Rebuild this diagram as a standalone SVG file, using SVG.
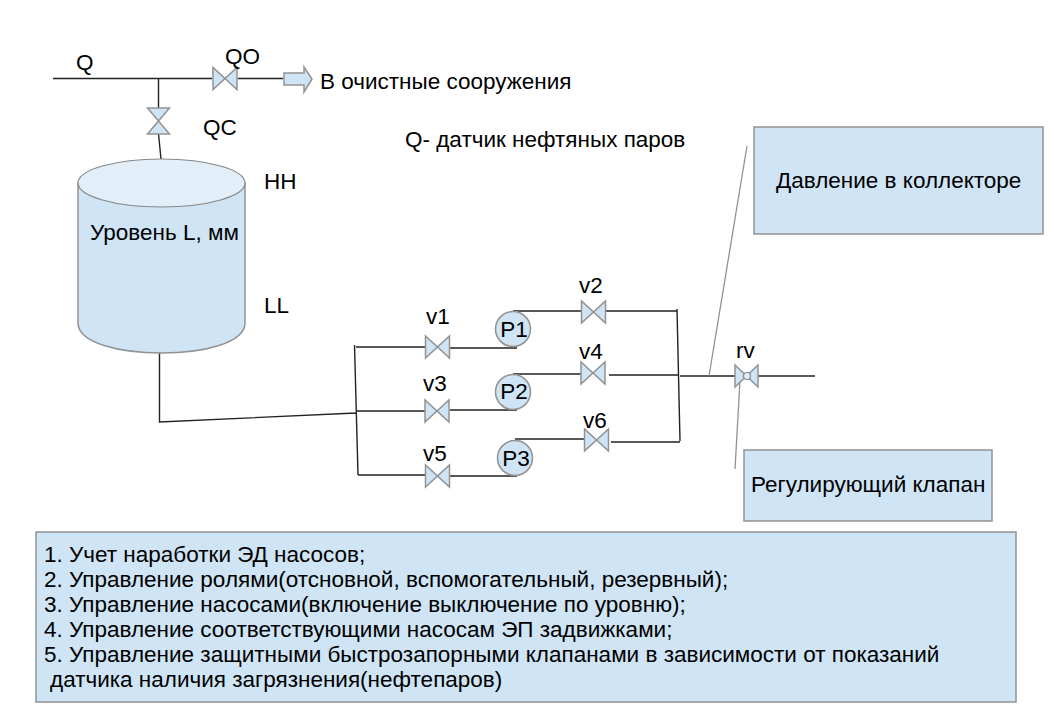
<svg xmlns="http://www.w3.org/2000/svg" width="1050" height="715" viewBox="0 0 1050 715">
<style>
text{font-family:"Liberation Sans",Arial,sans-serif;font-size:22.500px;fill:#000}
.s{fill:#cfe4f4;stroke:#929292;stroke-width:1.5}
.t{fill:#e2eff8;stroke:#888;stroke-width:1.2}
.l{fill:none;stroke:#222;stroke-width:1.4}
.g{fill:none;stroke:#929292;stroke-width:1.3}
</style>
<defs>
<path id="vh" class="s" d="M-12-11V11L12-11V11Z"/>
<path id="vv" class="s" d="M-11-13H11L-11 13H11Z"/>
</defs>
<rect width="1050" height="715" fill="#fff"/>
<g id="connectors">
<path class="l" d="M53 78.500H212M238 78.500H283M158.500 78.500V108M158.500 134L161 159"/>
<path class="l" d="M159.500 352V422L356 413M354.500 345L358 475M356 347H425M450 348H517M356 411H425M450 410H517M358 475H425M450 476H517"/>
<path class="l" d="M513 311H581M606 311H677M513 374H581M609 375H678M515 439H584M611 442H680M677 309L680 441M680 376H735M758 376H815"/>
<path class="g" d="M709 376L747 146M740 380L735 469"/>
</g>
<g id="tank">
<path class="s" d="M78 183V323C78 363 245 363 245 323V183Z"/>
<ellipse class="t" cx="161.500" cy="183" rx="83.500" ry="24"/>
<text x="90" y="240">Уровень L, мм</text>
</g>
<g id="valve-QO"><use href="#vh" x="225" y="78.500"/><text x="225" y="64">QO</text></g>
<g id="valve-QC"><use href="#vv" x="158.500" y="121"/><text x="203" y="135">QC</text></g>
<g id="outflow">
<path class="s" d="M284 73H304V67L312 79 304 92V85H284Z"/>
<text x="320" y="89">В очистные сооружения</text>
</g>
<g id="labels">
<text x="76" y="70">Q</text>
<text x="264" y="189">HH</text>
<text x="264" y="313">LL</text>
<text x="405" y="147">Q- датчик нефтяных паров</text>
</g>
<g id="valve-v1"><use href="#vh" x="437.500" y="347"/><text x="426" y="324">v1</text></g>
<g id="valve-v3"><use href="#vh" x="437" y="411"/><text x="423" y="391">v3</text></g>
<g id="valve-v5"><use href="#vh" x="437.500" y="476"/><text x="423" y="461">v5</text></g>
<g id="valve-v2"><use href="#vh" x="593.500" y="312"/><text x="579" y="293">v2</text></g>
<g id="valve-v4"><use href="#vh" x="593" y="373"/><text x="579" y="359">v4</text></g>
<g id="valve-v6"><use href="#vh" x="596.500" y="440"/><text x="583" y="428">v6</text></g>
<g id="pump-P1"><circle class="s" cx="513" cy="329" r="17.500"/><text x="514" y="337" text-anchor="middle">P1</text></g>
<g id="pump-P2"><circle class="s" cx="513" cy="392" r="17.500"/><text x="514" y="399" text-anchor="middle">P2</text></g>
<g id="pump-P3"><circle class="s" cx="515" cy="458" r="17.500"/><text x="516" y="466" text-anchor="middle">P3</text></g>
<g id="valve-rv">
<path class="s" d="M735 365V387L758 365V387Z"/>
<circle class="t" cx="747" cy="376" r="3.500"/>
<text x="736" y="358">rv</text>
</g>
<g id="box-pressure"><rect class="s" x="754" y="127" width="289" height="107"/><text x="776" y="188">Давление в коллекторе</text></g>
<g id="box-valve"><rect class="s" x="744" y="450" width="248" height="71"/><text x="751" y="492">Регулирующий клапан</text></g>
<g id="box-tasks">
<rect class="s" x="36" y="532" width="980" height="170"/>
<text x="44" y="562">1. Учет наработки ЭД насосов;</text>
<text x="44" y="587">2. Управление ролями(отсновной, вспомогательный, резервный);</text>
<text x="44" y="612">3. Управление насосами(включение выключение по уровню);</text>
<text x="44" y="637">4. Управление соответствующими насосам ЭП задвижками;</text>
<text x="44" y="662">5. Управление защитными быстрозапорными клапанами в зависимости от показаний</text>
<text x="50" y="687">датчика наличия загрязнения(нефтепаров)</text>
</g>
</svg>
